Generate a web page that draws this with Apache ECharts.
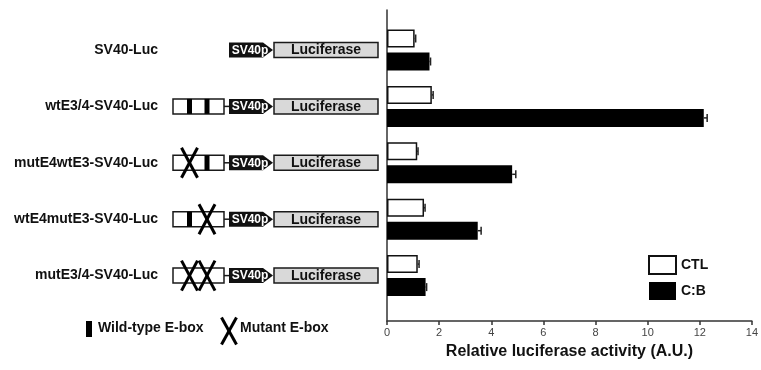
<!DOCTYPE html>
<html>
<head>
<meta charset="utf-8">
<script src="https://cdn.jsdelivr.net/npm/echarts@6/dist/echarts.min.js"></script>
<style>
html,body{margin:0;padding:0;background:#fff;}
#chart{width:761px;height:370px;}
</style>
</head>
<body>
<div id="chart"></div>
<script>
// ---- data ----
const constructs = ['SV40-Luc', 'wtE3/4-SV40-Luc', 'mutE4wtE3-SV40-Luc', 'wtE4mutE3-SV40-Luc', 'mutE3/4-SV40-Luc'];
const ctlValues = [1.06, 1.72, 1.16, 1.42, 1.18];
const ctlErrors = [0.04, 0.05, 0.03, 0.04, 0.05];
const cbValues = [1.63, 12.15, 4.8, 3.48, 1.48];
const cbErrors = [0.04, 0.13, 0.14, 0.13, 0.04];
const eboxE4 = ['none', 'wt', 'mut', 'wt', 'mut'];
const eboxE3 = ['none', 'wt', 'wt', 'mut', 'mut'];
const xTicks = [0, 2, 4, 6, 8, 10, 12, 14];
const seriesNames = ['CTL', 'C:B'];
const xAxisTitle = 'Relative luciferase activity (A.U.)';

const FONT = '"Liberation Sans", Arial, sans-serif';
const chart = echarts.init(document.getElementById('chart'), null, {renderer: 'canvas'});

const BAR_W = 18, BAR_OFF = 11.5;

function errRender(off) {
  return function (params, api) {
    const v = api.value(0), e = api.value(1), idx = api.value(2);
    const p0 = api.coord([v, idx]);
    const p1 = api.coord([v + e, idx]);
    const y = p0[1] + off;
    const st = {stroke: '#222', lineWidth: 1.5};
    return {type: 'group', children: [
      {type: 'line', shape: {x1: p0[0], y1: y, x2: p1[0], y2: y}, style: st},
      {type: 'line', shape: {x1: p1[0], y1: y - 4, x2: p1[0], y2: y + 4}, style: st}
    ]};
  };
}

function diagramRender(params, api) {
  const idx = api.value(1);
  const i = params.dataIndex;
  const c = api.coord([0, idx]);
  const X = function (rx) { return api.coord([rx, idx])[0]; };
  const cy = c[1];
  const h = 7.5;
  const stroke = '#1a1a1a';
  const children = [];
  const hasE = eboxE4[i] !== 'none' || eboxE3[i] !== 'none';
  if (hasE) {
    children.push({type: 'rect', shape: {x: X(10), y: cy - h, width: X(61) - X(10), height: 2 * h},
      style: {fill: '#fff', stroke: stroke, lineWidth: 1.5}});
    children.push({type: 'line', shape: {x1: X(61), y1: cy, x2: X(66), y2: cy},
      style: {stroke: stroke, lineWidth: 1.5}});
    const pos = [26.5, 44];
    [eboxE4[i], eboxE3[i]].forEach(function (t, k) {
      const ex = X(pos[k]);
      if (t === 'wt') {
        children.push({type: 'rect', shape: {x: ex - 2.5, y: cy - h, width: 5, height: 2 * h},
          style: {fill: '#000'}});
      } else if (t === 'mut') {
        const st = {stroke: '#000', lineWidth: 3};
        children.push({type: 'line', shape: {x1: ex - 8, y1: cy - 15, x2: ex + 8, y2: cy + 15}, style: st});
        children.push({type: 'line', shape: {x1: ex + 8, y1: cy - 15, x2: ex - 8, y2: cy + 15}, style: st});
      }
    });
  }
  // SV40 promoter arrow
  children.push({type: 'polygon', shape: {points: [
    [X(66), cy - h], [X(100), cy - h], [X(110), cy], [X(100), cy + h], [X(66), cy + h]
  ]}, style: {fill: '#111'}});
  children.push({type: 'text', style: {text: 'SV40p', x: X(87), y: cy + 0.5, align: 'center', verticalAlign: 'middle',
    fill: '#fff', font: 'bold 12px ' + FONT}});
  // luciferase box
  children.push({type: 'rect', shape: {x: X(111), y: cy - h, width: X(215) - X(111), height: 2 * h},
    style: {fill: '#d9d9d9', stroke: stroke, lineWidth: 1.5}});
  children.push({type: 'text', style: {text: 'Luciferase', x: X(163), y: cy + 0.5, align: 'center', verticalAlign: 'middle',
    fill: '#111', font: 'bold 14px ' + FONT}});
  return {type: 'group', children: children};
}

const option = {
  animation: false,
  backgroundColor: '#fff',
  grid: [
    {left: 163, width: 224, top: 21.8, height: 282},
    {left: 387, right: 9, top: 21.8, height: 282},
    {left: 387, right: 9, top: 10, height: 311}
  ],
  xAxis: [
    {gridIndex: 0, type: 'value', min: 0, max: 224, show: false},
    {gridIndex: 1, type: 'value', min: 0, max: 14, show: false},
    {gridIndex: 2, type: 'value', min: xTicks[0], max: xTicks[xTicks.length - 1], interval: 2,
      axisLine: {show: true, lineStyle: {color: '#333', width: 1.5}},
      axisTick: {show: true, length: 4, lineStyle: {color: '#333', width: 1.5}},
      axisLabel: {fontSize: 11, color: '#444', margin: 6, fontFamily: FONT},
      splitLine: {show: false},
      name: xAxisTitle, nameLocation: 'middle', nameGap: 23,
      nameTextStyle: {fontSize: 16, fontWeight: 'bold', color: '#111', fontFamily: FONT}}
  ],
  yAxis: [
    {gridIndex: 0, type: 'category', inverse: true, data: constructs,
      axisLine: {show: false}, axisTick: {show: false},
      axisLabel: {fontSize: 14, fontWeight: 'bold', color: '#111', margin: 5, fontFamily: FONT}},
    {gridIndex: 1, type: 'category', inverse: true, data: constructs, show: false},
    {gridIndex: 2, type: 'value', min: 0, max: 1,
      axisLine: {show: true, lineStyle: {color: '#333', width: 1.5}},
      axisTick: {show: false}, axisLabel: {show: false}, splitLine: {show: false}}
  ],
  legend: {
    orient: 'vertical', left: 648, top: 255, padding: 0,
    itemWidth: 27, itemHeight: 18, itemGap: 7, icon: 'rect',
    textStyle: {fontSize: 14, fontWeight: 'bold', color: '#111', fontFamily: FONT},
    data: [
      {name: seriesNames[0], itemStyle: {color: '#fff', borderColor: '#111', borderWidth: 2}},
      {name: seriesNames[1], itemStyle: {color: '#000', borderColor: '#000', borderWidth: 0}}
    ]
  },
  series: [
    {type: 'custom', xAxisIndex: 0, yAxisIndex: 0, renderItem: diagramRender,
      data: constructs.map(function (c) { return [0, c]; }), encode: {x: 0, y: 1}, silent: true},
    {name: seriesNames[0], type: 'bar', xAxisIndex: 1, yAxisIndex: 1, data: ctlValues,
      barWidth: BAR_W, barGap: '28%',
      itemStyle: {color: '#fff', borderColor: '#111', borderWidth: 1.5}},
    {name: seriesNames[1], type: 'bar', xAxisIndex: 1, yAxisIndex: 1, data: cbValues,
      barWidth: BAR_W, barGap: '28%',
      itemStyle: {color: '#000'}},
    {type: 'custom', xAxisIndex: 1, yAxisIndex: 1, renderItem: errRender(-BAR_OFF), z: 5,
      data: ctlValues.map(function (v, i) { return [v, ctlErrors[i], constructs[i]]; }), encode: {x: 0, y: 2}},
    {type: 'custom', xAxisIndex: 1, yAxisIndex: 1, renderItem: errRender(BAR_OFF), z: 5,
      data: cbValues.map(function (v, i) { return [v, cbErrors[i], constructs[i]]; }), encode: {x: 0, y: 2}}
  ],
  graphic: [
    {type: 'rect', left: 86, top: 321, shape: {width: 6, height: 16}, style: {fill: '#000'}},
    {type: 'text', left: 98, top: 321, style: {text: 'Wild-type E-box', font: 'bold 14px ' + FONT, fill: '#111'}},
    {type: 'group', left: 219, top: 315, children: [
      {type: 'line', shape: {x1: 1, y1: 0, x2: 16, y2: 27}, style: {stroke: '#000', lineWidth: 3}},
      {type: 'line', shape: {x1: 16, y1: 0, x2: 1, y2: 27}, style: {stroke: '#000', lineWidth: 3}}
    ]},
    {type: 'text', left: 240, top: 321, style: {text: 'Mutant E-box', font: 'bold 14px ' + FONT, fill: '#111'}}
  ]
};
chart.setOption(option);
</script>
</body>
</html>
